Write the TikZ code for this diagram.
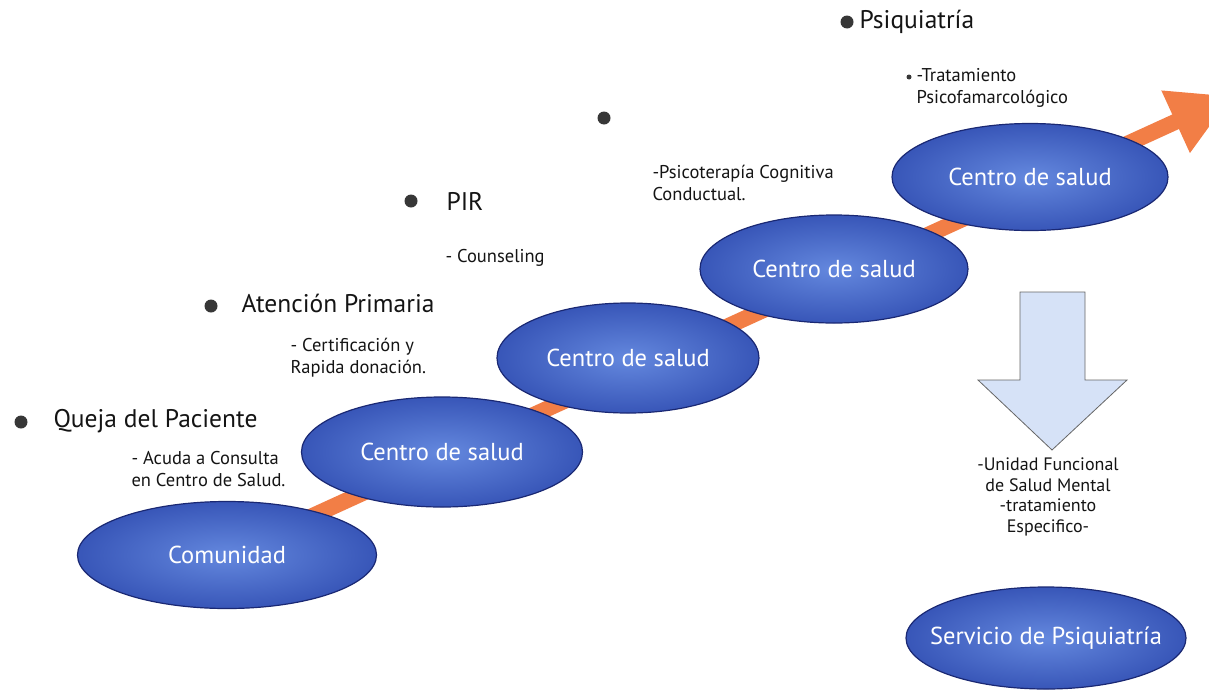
\documentclass[tikz,border=0pt]{standalone}
\usepackage{fontspec}
\setmainfont{PT Sans}
\usepackage{tikz}
\usetikzlibrary{shapes.geometric,arrows.meta,backgrounds}
\definecolor{blob}{RGB}{100, 136, 222}
\definecolor{blobdark}{RGB}{56, 86, 184}
\definecolor{blobedge}{RGB}{26, 40, 115}
\definecolor{accent}{RGB}{242, 126, 70}
\definecolor{pale}{RGB}{214, 226, 247}
\definecolor{ink}{RGB}{20, 20, 20}

\tikzset{
  stage/.style={ellipse, draw=blobedge, line width=1.2pt, inner sep=0pt,
    inner color=blob, outer color=blobdark, text=white,
    font=\fontsize{24.5}{28}\selectfont},
  bulletdot/.style={circle, fill=ink!85, inner sep=0pt, minimum size=13pt},
  bigtxt/.style={anchor=west, text=ink, font=\fontsize{25.5}{29}\selectfont},
  smalltxt/.style={anchor=west, align=left, text=ink, font=\fontsize{18.5}{22}\selectfont},
}

\begin{document}
\begin{tikzpicture}[x=1pt, y=-1pt]
\useasboundingbox (0,0) rectangle (1209,691);

% escalones
\node[stage, minimum width=299pt, minimum height=107pt] (comunidad) at (227,555) {Comunidad};
\node[stage, minimum width=281pt, minimum height=110pt] (centro1) at (442,452) {Centro de salud};
\node[stage, minimum width=262pt, minimum height=110pt] (centro2) at (628,358) {Centro de salud};
\node[stage, minimum width=268pt, minimum height=108pt] (centro3) at (834,269) {Centro de salud};
\node[stage, minimum width=276pt, minimum height=107pt] (centro4) at (1030,177) {Centro de salud};
\node[stage, inner xsep=-40pt, minimum width=280pt, minimum height=102pt] (servicio) at (1046,638) {Servicio de Psiquiatría};

% flecha naranja por detras
\coordinate (salida) at (1232,96);
\begin{scope}[on background layer]
\draw[accent, line width=16pt, -{Triangle[length=62pt,width=64pt]}] (comunidad.center) -- (salida);
\end{scope}

% niveles
\node[bulletdot] (d1) at (21,422) {};
\node[bigtxt] (queja) at (50,421) {Queja del Paciente};
\node[smalltxt] (acuda) at (128,469) {- Acuda a Consulta\\en Centro de Salud.};

\node[bulletdot] (d2) at (211,306) {};
\node[bigtxt] (atencion) at (238,303) {Atención Primaria};
\node[smalltxt] (certif) at (287,358) {- Certificación y\\Rapida donación.};

\node[bulletdot] (d3) at (411,201) {};
\node[bigtxt] (pir) at (443,201) {PIR};
\node[smalltxt] (couns) at (442,258) {- Counseling};

\node[bulletdot] (d4) at (604,118) {};
\node[smalltxt] (psicot) at (649,183) {-Psicoterapía Cognitiva\\Conductual.};

\node[bulletdot] (d5) at (847,22) {};
\node[bigtxt] (psiq) at (856,22) {Psiquiatría};
\node[bulletdot, minimum size=5pt] (d6) at (909,77) {};
\node[smalltxt] (tratam) at (913,88) {-Tratamiento\\Psicofamarcológico};

% derivacion
\draw[draw=black!60, fill=pale, line width=0.8pt]
  (1020,292) -- (1085,292) -- (1085,380) -- (1127,380) -- (1052,450)
  -- (978,380) -- (1020,380) -- cycle;
\node[align=center, text=ink, font=\fontsize{18}{20.5}\selectfont] (unidad) at (1048,497)
  {-Unidad Funcional\\de Salud Mental\\-tratamiento\\Especifico-};
\end{tikzpicture}
\end{document}
